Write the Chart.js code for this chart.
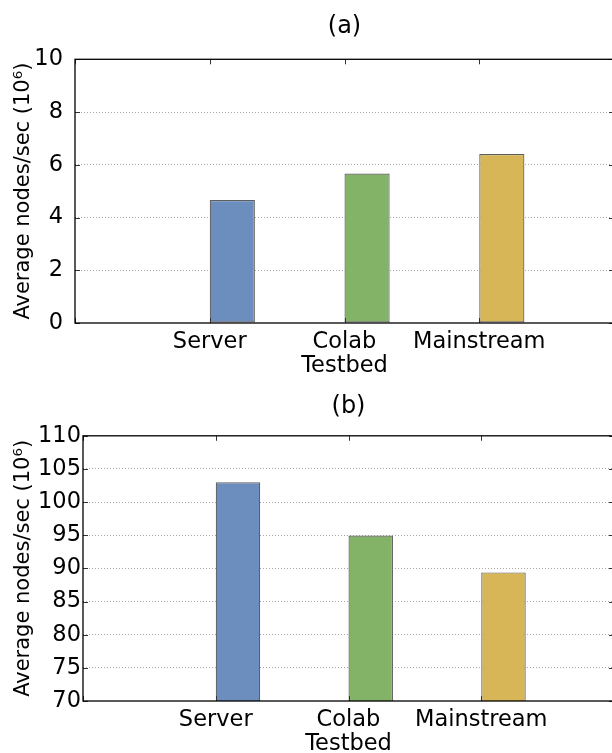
<!DOCTYPE html>
<html>
<head>
<meta charset="utf-8">
<script src="https://cdn.jsdelivr.net/npm/chart.js@4.4.0/dist/chart.umd.min.js"></script>
<style>
html, body { margin:0; padding:0; background:#fff; overflow:hidden; width:612px; height:753px; }
.panel { position:absolute; left:0; width:614px; }
#wrapA { top:0; height:376px; }
#wrapB { top:376px; height:377px; }
</style>
</head>
<body>
<div class="panel" id="wrapA"><canvas id="chartA"></canvas></div>
<div class="panel" id="wrapB"><canvas id="chartB"></canvas></div>
<script>
// data
const categories = ['Server', ['Colab', 'Testbed'], 'Mainstream'];
const barColors = ['#6c8ebf', '#82b366', '#d6b656'];
const valuesA = [4.66, 5.67, 6.41];
const valuesB = [103.0, 94.95, 89.4];
const ticksA = [0, 2, 4, 6, 8, 10];
const ticksB = [70, 75, 80, 85, 90, 95, 100, 105, 110];
const yTitle = 'Average nodes/sec (10\u2076)';

const FONT = "'DejaVu Sans', 'Liberation Sans', sans-serif";

// matplotlib-ish frame with inward tick marks
const framePlugin = {
    id: 'frame',
    afterDatasetsDraw(chart){
        const ctx = chart.ctx, a = chart.chartArea;
        const x = chart.scales.x, y = chart.scales.y;
        ctx.save();
        ctx.strokeStyle = '#333';
        ctx.lineWidth = 1;
        ctx.beginPath();
        y.ticks.forEach((t, i) => {
            const py = Math.round(y.getPixelForTick(i)) + 0.5;
            ctx.moveTo(a.left, py); ctx.lineTo(a.left + 5, py);
            ctx.moveTo(a.right, py); ctx.lineTo(a.right - 5, py);
        });
        x.ticks.forEach((t, i) => {
            const px = Math.round(x.getPixelForTick(i)) + 0.5;
            ctx.moveTo(px, a.top); ctx.lineTo(px, a.top + 5);
            ctx.moveTo(px, a.bottom); ctx.lineTo(px, a.bottom - 5);
        });
        ctx.stroke();
        ctx.strokeStyle = '#000';
        ctx.lineWidth = 1.3;
        ctx.strokeRect(a.left, a.top, a.right - a.left, a.bottom - a.top);
        ctx.restore();
    }
};

function makeChart(id, title, values, yTicks, lay){
    const ctx = document.getElementById(id).getContext('2d');
    return new Chart(ctx, {
        type: 'bar',
        data: {
            datasets: [
                // empty spacer so the real bar sits to the right of its tick (edge aligned)
                { data: [], backgroundColor: 'transparent' },
                {
                    data: values.map((v, i) => ({ x: i + 1, y: v })),
                    backgroundColor: barColors,
                    borderColor: '#5e5e5e',
                    borderWidth: 1.2,
                    borderSkipped: false,
                    categoryPercentage: 0.67,
                    barPercentage: 1
                }
            ]
        },
        options: {
            responsive: true,
            maintainAspectRatio: false,
            animation: false,
            layout: { padding: 0 },
            plugins: {
                legend: { display: false },
                tooltip: { enabled: false },
                title: {
                    display: true,
                    text: title,
                    fullSize: false,
                    color: '#000',
                    font: { family: FONT, size: 24, weight: 'normal', lineHeight: 1.2 },
                    padding: { top: lay.titleTop, bottom: lay.titleBottom }
                }
            },
            scales: {
                x: {
                    type: 'linear',
                    offset: false,
                    min: 0,
                    max: categories.length + 1,
                    afterBuildTicks: s => { s.ticks = [0, 1, 2, 3, 4].map(v => ({ value: v })); },
                    afterFit: s => { s.height = lay.xHeight; s.paddingRight = 0; },
                    grid: { display: false, drawTicks: false },
                    border: { display: false },
                    ticks: {
                        autoSkip: false,
                        maxRotation: 0,
                        padding: 7,
                        color: '#000',
                        font: { family: FONT, size: 22.5, lineHeight: 1.08 },
                        callback: v => categories[v - 1] || ''
                    }
                },
                y: {
                    min: yTicks[0],
                    max: yTicks[yTicks.length - 1],
                    afterBuildTicks: s => { s.ticks = yTicks.map(v => ({ value: v })); },
                    afterFit: s => { s.width = lay.yWidth; },
                    border: { display: false, dash: [1, 2] },
                    grid: {
                        drawTicks: false,
                        color: c => (c.index === 0 || c.index === yTicks.length - 1) ? 'transparent' : '#a8a8a8',
                        lineWidth: 1
                    },
                    ticks: {
                        padding: lay.yPad,
                        color: '#000',
                        font: { family: FONT, size: 22.5 }
                    },
                    title: {
                        display: true,
                        text: yTitle,
                        color: '#000',
                        font: { family: FONT, size: 21, lineHeight: 1.2 },
                        padding: { top: 11, bottom: 0 }
                    }
                }
            }
        },
        plugins: [framePlugin]
    });
}

Chart.defaults.font.family = FONT;

makeChart('chartA', '(a)', valuesA, ticksA, { titleTop: 12, titleBottom: 18.5, xHeight: 53, yWidth: 75, yPad: 12 });
makeChart('chartB', '(b)', valuesB, ticksB, { titleTop: 16, titleBottom: 15, xHeight: 52, yWidth: 83, yPad: 2 });
</script>
</body>
</html>
